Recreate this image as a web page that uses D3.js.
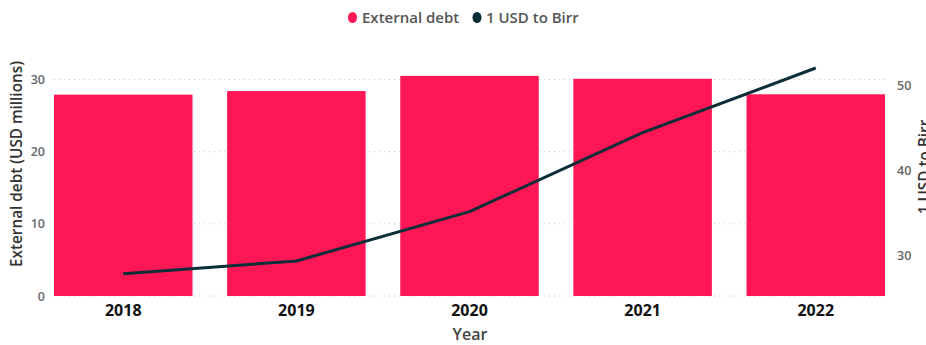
<!DOCTYPE html>
<html>
<head>
<meta charset="utf-8">
<script src="https://cdn.jsdelivr.net/npm/d3@7"></script>
<style>
  body { margin: 0; background: #fff; }
  svg { display: block; font-family: "Open Sans", sans-serif; }
</style>
</head>
<body>
<svg id="chart"></svg>
<script>
const years = ["2018", "2019", "2020", "2021", "2022"]
const externalDebt = [27.9, 28.4, 30.5, 30.1, 27.95]
const usdToBirr = [27.8, 29.3, 35.1, 44.4, 52.0]
const leftTicks = [0, 10, 20, 30]
const rightTicks = [30, 40, 50]

const w = 926
const h = 345
const barColor = "#ff1654"
const lineColor = "#0b2e38"

const svg = d3.select("#chart")
  .attr("width", w)
  .attr("height", h)

const xScale = d3.scaleBand()
  .domain(years)
  .range([54, 885])
  .paddingInner(0.2)
  .paddingOuter(0)

const yLeft = d3.scaleLinear()
  .domain([0, 30])
  .range([296, 79.5])

const yRight = d3.scaleLinear()
  .domain([25.18, 50.65])
  .range([296, 79.5])

// gridlines
svg.append("g")
  .selectAll("line")
  .data(leftTicks)
  .enter()
  .append("line")
  .attr("x1", 54)
  .attr("x2", 885)
  .attr("y1", d => yLeft(d))
  .attr("y2", d => yLeft(d))
  .attr("stroke", "#c8c8c8")
  .attr("stroke-width", 1)
  .attr("stroke-dasharray", "1,4")

// bars
svg.append("g")
  .selectAll("rect")
  .data(years)
  .enter()
  .append("rect")
  .attr("x", d => xScale(d))
  .attr("width", xScale.bandwidth())
  .attr("y", (d, i) => yLeft(externalDebt[i]))
  .attr("height", (d, i) => yLeft(0) - yLeft(externalDebt[i]))
  .attr("fill", barColor)

// line
const line = d3.line()
  .x((d, i) => xScale(years[i]) + xScale.bandwidth() / 2)
  .y(d => yRight(d))

svg.append("path")
  .datum(usdToBirr)
  .attr("d", line)
  .attr("fill", "none")
  .attr("stroke", lineColor)
  .attr("stroke-width", 3)
  .attr("stroke-linejoin", "round")

// axes
const xAxis = d3.axisBottom(xScale).tickSize(0).tickPadding(9)
const leftAxis = d3.axisLeft(yLeft).tickValues(leftTicks).tickSize(0).tickPadding(9)
const rightAxis = d3.axisRight(yRight).tickValues(rightTicks).tickSize(0).tickPadding(12)

const gx = svg.append("g")
  .attr("transform", "translate(0, 296)")
  .call(xAxis)
gx.select(".domain").remove()
gx.selectAll("text")
  .attr("font-size", 16)
  .attr("font-weight", 700)
  .attr("fill", "#111")
  .attr("font-family", "Open Sans")

const gl = svg.append("g")
  .attr("transform", "translate(54, 0)")
  .call(leftAxis)
gl.select(".domain").remove()
gl.selectAll("text")
  .attr("font-size", 12.5)
  .attr("font-weight", 600)
  .attr("fill", "#666")
  .attr("font-family", "Open Sans")

const gr = svg.append("g")
  .attr("transform", "translate(885, 0)")
  .call(rightAxis)
gr.select(".domain").remove()
gr.selectAll("text")
  .attr("font-size", 12.5)
  .attr("font-weight", 600)
  .attr("fill", "#666")
  .attr("font-family", "Open Sans")

// axis titles
svg.append("text")
  .attr("x", 470)
  .attr("y", 340)
  .attr("text-anchor", "middle")
  .attr("font-size", 16)
  .attr("font-weight", 600)
  .attr("fill", "#444")
  .text("Year")

svg.append("text")
  .attr("transform", "translate(22, 164) rotate(-90)")
  .attr("text-anchor", "middle")
  .attr("font-size", 15.3)
  .attr("font-weight", 600)
  .attr("fill", "#333")
  .text("External debt (USD millions)")

svg.append("text")
  .attr("transform", "translate(930, 167) rotate(-90)")
  .attr("text-anchor", "middle")
  .attr("font-size", 15.3)
  .attr("font-weight", 600)
  .attr("fill", "#333")
  .text("1 USD to Birr")

// legend
const legendItems = [
  { name: "External debt", color: barColor, cx: 352.5, tx: 362 },
  { name: "1 USD to Birr", color: lineColor, cx: 477, tx: 486 }
]
const lg = svg.append("g")
lg.selectAll("ellipse")
  .data(legendItems)
  .enter()
  .append("ellipse")
  .attr("cx", d => d.cx)
  .attr("cy", 17.5)
  .attr("rx", 4.5)
  .attr("ry", 5.5)
  .attr("fill", d => d.color)
lg.selectAll("text")
  .data(legendItems)
  .enter()
  .append("text")
  .attr("x", d => d.tx)
  .attr("y", 23)
  .attr("font-size", 15)
  .attr("font-weight", 600)
  .attr("fill", "#555")
  .text(d => d.name)
</script>
</body>
</html>
